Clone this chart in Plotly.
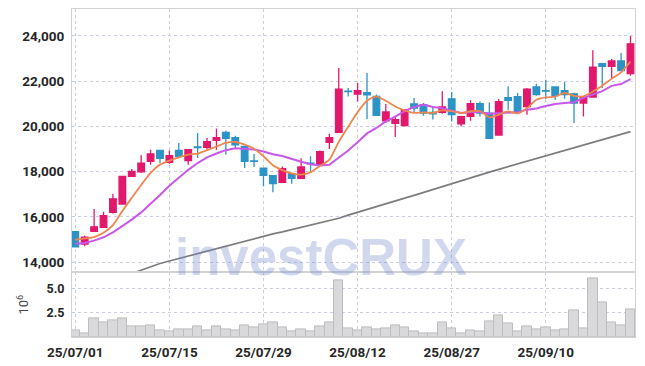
import plotly.graph_objects as go
from plotly.subplots import make_subplots

# ---------------- data ----------------
dates = [
    "25/07/01", "25/07/02", "25/07/03", "25/07/04", "25/07/07", "25/07/08", "25/07/09", "25/07/10",
    "25/07/11", "25/07/14", "25/07/15", "25/07/16", "25/07/17", "25/07/18", "25/07/21", "25/07/22",
    "25/07/23", "25/07/24", "25/07/25", "25/07/28", "25/07/29", "25/07/30", "25/07/31", "25/08/01",
    "25/08/04", "25/08/05", "25/08/06", "25/08/07", "25/08/08", "25/08/11", "25/08/12", "25/08/13",
    "25/08/14", "25/08/18", "25/08/19", "25/08/20", "25/08/21", "25/08/22", "25/08/25", "25/08/26",
    "25/08/27", "25/08/28", "25/08/29", "25/09/01", "25/09/02", "25/09/03", "25/09/04", "25/09/05",
    "25/09/08", "25/09/09", "25/09/10", "25/09/11", "25/09/12", "25/09/15", "25/09/16", "25/09/17",
    "25/09/18", "25/09/19", "25/09/22", "25/09/23",
]

open_p = [15350, 14800, 15360, 15540, 16200, 16570, 17790, 17990, 18450, 18940,
          18410, 18940, 18490, 19090, 19070, 19380, 19730, 19500, 19120, 18470,
          18160, 17820, 17530, 17910, 17700, 18370, 18310, 19290, 19740, 21560,
          21430, 21490, 21320, 20250, 20130, 20030, 20990, 20960, 20620, 20620,
          21220, 20110, 20440, 21000, 20590, 19620, 21270, 21310, 20880, 21740,
          21580, 21740, 21580, 21440, 21030, 21300, 22770, 22650, 22890, 22330]
high_p = [15350, 15170, 16350, 16230, 17020, 17820, 18120, 18720, 18970, 18950,
          18940, 19270, 19000, 19710, 19490, 19910, 19810, 19590, 19120, 18780,
          18180, 17830, 18230, 17930, 18590, 18680, 18930, 19680, 22580, 21700,
          21920, 22360, 21410, 20990, 20440, 20770, 21250, 21030, 20880, 21550,
          21520, 20470, 21150, 21100, 21060, 21210, 21770, 21480, 21700, 21890,
          22060, 21750, 21960, 21490, 21340, 23360, 22800, 22980, 23240, 24000]
low_p = [14680, 14700, 15360, 15510, 16150, 16570, 17790, 17940, 18310, 18380,
         18350, 18650, 18310, 18600, 18970, 18970, 18750, 19000, 18160, 18210,
         17350, 17090, 17510, 17470, 17700, 17960, 18310, 19000, 19740, 21320,
         21100, 20330, 20490, 20150, 19530, 20000, 20590, 20470, 20300, 20560,
         20220, 20000, 20250, 20440, 19470, 19590, 20740, 20600, 20520, 21350,
         21210, 21180, 21220, 20150, 20440, 21270, 21700, 22140, 22440, 22240]
close_p = [14680, 15100, 15560, 16060, 16800, 17790, 18010, 18380, 18780, 18590,
           18710, 18680, 18970, 19060, 19330, 19500, 19470, 19180, 18450, 18450,
           17840, 17470, 18130, 17700, 18210, 18350, 18880, 19500, 21650, 21540,
           21580, 21390, 20490, 20640, 20300, 20740, 20810, 20590, 20550, 20860,
           20520, 20430, 21000, 20590, 19470, 21090, 21150, 20620, 21650, 21410,
           21560, 21360, 21400, 21030, 21300, 22620, 22650, 22890, 22470, 23650]

# volume, millions of shares
volume_m = [0.64, 0.33, 1.89, 1.47, 1.68, 1.89, 1.09, 1.06, 1.16, 0.64,
            0.54, 0.77, 0.75, 1.14, 0.64, 1.06, 0.75, 0.64, 1.16, 0.97,
            1.28, 1.47, 0.95, 0.57, 0.75, 0.57, 1.06, 1.47, 5.86, 0.85,
            0.64, 0.95, 0.75, 0.85, 1.26, 0.95, 0.54, 0.33, 0.33, 1.47,
            0.85, 0.33, 0.64, 0.54, 1.58, 2.30, 1.37, 0.54, 1.06, 0.75,
            0.95, 0.64, 0.75, 2.72, 0.85, 6.14, 3.55, 1.47, 1.16, 2.92]

ma5 = [14990, 15050, 15110, 15300, 15640, 16260, 16840, 17410, 17950, 18310,
       18490, 18630, 18750, 18800, 18950, 19110, 19270, 19310, 19190, 19010,
       18680, 18280, 18070, 17920, 17870, 17970, 18250, 18530, 19320, 19980,
       20630, 21130, 21330, 21130, 20880, 20710, 20600, 20620, 20600, 20710,
       20670, 20590, 20670, 20680, 20400, 20520, 20660, 20580, 20800, 21180,
       21280, 21320, 21480, 21350, 21330, 21540, 21800, 22100, 22390, 22860]
ma10 = [14810, 14850, 14950, 15100, 15320, 15590, 15880, 16200, 16570, 16970,
        17380, 17740, 18080, 18380, 18630, 18800, 18950, 19030, 18990, 18980,
        18890, 18770, 18690, 18550, 18440, 18330, 18270, 18300, 18620, 18930,
        19300, 19690, 19930, 20220, 20430, 20670, 20860, 20970, 20860, 20800,
        20690, 20590, 20640, 20640, 20560, 20590, 20630, 20630, 20740, 20790,
        20900, 20990, 21030, 21070, 21260, 21410, 21560, 21790, 21870, 22090]
ma60 = [None, None, None, None, None, None, 13500, 13650, 13790, 13940,
        14050, 14160, 14270, 14380, 14500, 14610, 14720, 14830, 14940, 15050,
        15150, 15250, 15340, 15440, 15530, 15620, 15720, 15810, 15940, 16080,
        16210, 16340, 16470, 16600, 16720, 16830, 16950, 17080, 17220, 17360,
        17490, 17620, 17740, 17860, 17980, 18100, 18220, 18340, 18460, 18580,
        18690, 18810, 18930, 19050, 19170, 19290, 19410, 19530, 19650, 19770]

tick_dates = ["25/07/01", "25/07/15", "25/07/29", "25/08/12", "25/08/27", "25/09/10"]
price_ticks = [14000, 16000, 18000, 20000, 22000, 24000]
vol_ticks_m = [2.5, 5.0]
vol_tick_text = ["2.5", "5.0"]
watermark = "investCRUX"

# ---------------- styling ----------------
UP = "#E2186C"
DOWN = "#2B93C6"
GRID = "#C9CDE0"
FRAME = "#D2D2D2"
TICK_FONT = dict(family="Roboto, sans-serif", size=13.5, color="#262626", weight="bold")

volume = [v * 1e6 for v in volume_m]
vol_ticks = [v * 1e6 for v in vol_ticks_m]

fig = make_subplots(rows=2, cols=1, shared_xaxes=True, vertical_spacing=0)

fig.add_trace(go.Bar(x=dates, y=volume, width=1.0,
                     marker=dict(color="#D9D9DC", line=dict(color="#BDBDC0", width=1)),
                     hoverinfo="skip"), row=2, col=1)

fig.add_trace(go.Candlestick(
    x=dates, open=open_p, high=high_p, low=low_p, close=close_p,
    increasing=dict(line=dict(color=UP, width=1.3), fillcolor=UP),
    decreasing=dict(line=dict(color=DOWN, width=1.3), fillcolor=DOWN),
    whiskerwidth=0), row=1, col=1)

fig.add_trace(go.Scatter(x=dates, y=ma60, mode="lines",
                         line=dict(color="#7C7C7C", width=1.7)), row=1, col=1)
fig.add_trace(go.Scatter(x=dates, y=ma10, mode="lines",
                         line=dict(color="#C957EA", width=2)), row=1, col=1)
fig.add_trace(go.Scatter(x=dates, y=ma5, mode="lines",
                         line=dict(color="#EF8650", width=1.8, shape="spline", smoothing=0.6)),
              row=1, col=1)

xcommon = dict(type="category", range=[-0.35, 59.48], tickmode="array", tickvals=tick_dates,
               ticktext=tick_dates, showgrid=True, gridcolor=GRID, griddash="dot", gridwidth=1,
               showline=True, linecolor=FRAME, linewidth=1, mirror=True, ticks="",
               zeroline=False, automargin=False)

# the page adds an 8px body margin, so the figure is 8px smaller and shifted
fig.update_layout(
    width=637, height=358,
    margin=dict(l=64, r=10, t=1, b=29),
    paper_bgcolor="white", plot_bgcolor="white",
    showlegend=False, bargap=0, boxgap=0,
    xaxis=dict(**xcommon, showticklabels=False, rangeslider=dict(visible=False)),
    xaxis2=dict(**xcommon, showticklabels=True, tickfont=TICK_FONT, ticklabelstandoff=3),
    yaxis=dict(domain=[0.197, 1], range=[13548, 25188], tickmode="array", tickvals=price_ticks,
               tickformat=",", tickfont=TICK_FONT, showgrid=True, gridcolor=GRID, griddash="dot",
               showline=True, linecolor=FRAME, mirror=True, ticks="", zeroline=False,
               ticklabelstandoff=4, automargin=False),
    yaxis2=dict(domain=[0, 0.197], range=[0, 6.72e6], tickmode="array", tickvals=vol_ticks,
                ticktext=vol_tick_text, tickfont=dict(TICK_FONT, size=12.5),
                showgrid=True, gridcolor=GRID, griddash="dot",
                showline=True, linecolor=FRAME, mirror=True, ticks="", zeroline=False,
                ticklabelstandoff=4, automargin=False,
                title=dict(text="10<sup>6</sup>", standoff=14,
                           font=dict(family="Roboto, sans-serif", size=13,
                                     color="#444444"))),
)

fig.add_annotation(text=watermark, xref="paper", yref="paper", x=0.443, y=0.243,
                   xanchor="center", yanchor="middle", showarrow=False,
                   font=dict(family="Liberation Sans, Arial, sans-serif", size=51,
                             color="rgba(120,138,198,0.34)", weight="bold"))

fig.write_html("out.html")
